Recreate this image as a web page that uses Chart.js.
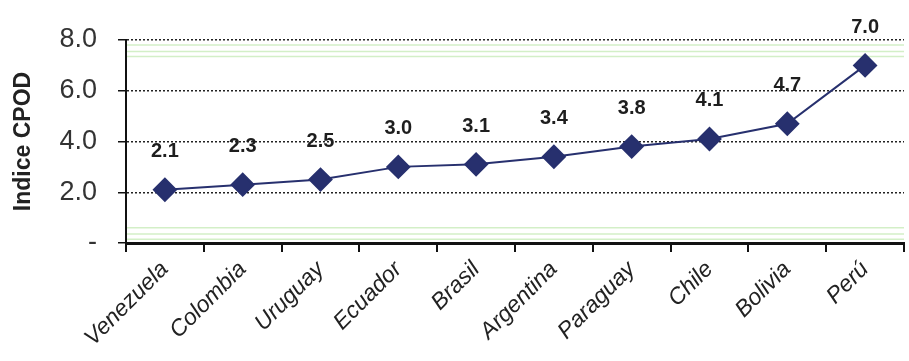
<!doctype html>
<html lang="es">
  <head>
    <meta charset="UTF-8" />
    <title>Indice CPOD</title>
    <script src="https://cdn.jsdelivr.net/npm/chart.js"></script>
    <style>
      html, body {
        margin: 0;
        padding: 0;
        background: #fff;
        overflow: hidden;
      }
      .wrap {
        width: 917px;
        height: 361px;
      }
    </style>
  </head>
  <body>
    <div class="wrap"><canvas id="cpod"></canvas></div>
    <script>
      const countries = ['Venezuela', 'Colombia', 'Uruguay', 'Ecuador', 'Brasil', 'Argentina', 'Paraguay', 'Chile', 'Bolivia', 'Perú'];
      const cpodValues = [2.1, 2.3, 2.5, 3.0, 3.1, 3.4, 3.8, 4.1, 4.7, 7.0];
      const yTicks = [0, 2, 4, 6, 8];

      const navy = '#27306e';

      // value labels above each marker
      const valueLabels = {
        id: 'valueLabels',
        afterDatasetsDraw(chart) {
          const ctx = chart.ctx;
          const meta = chart.getDatasetMeta(0);
          ctx.save();
          ctx.font = 'bold 20px "Liberation Sans", Arial, sans-serif';
          ctx.fillStyle = '#1e1e1e';
          ctx.textAlign = 'center';
          ctx.textBaseline = 'middle';
          meta.data.forEach((pt, i) => {
            ctx.fillText(cpodValues[i].toFixed(1), pt.x, pt.y - 38);
          });
          ctx.restore();
        }
      };

      // faint greenish scan lines near top and bottom of the plot
      const bands = {
        id: 'bands',
        beforeDraw(chart) {
          const { ctx, chartArea, scales } = chart;
          ctx.save();
          ctx.strokeStyle = 'rgba(200, 235, 185, 0.8)';
          ctx.lineWidth = 1.5;
          [7.8, 7.55, 7.35, 0.6, 0.35, 0.15].forEach(v => {
            const y = scales.y.getPixelForValue(v);
            ctx.beginPath();
            ctx.moveTo(chartArea.left, y);
            ctx.lineTo(chartArea.right, y);
            ctx.stroke();
          });
          ctx.restore();
        }
      };

      new Chart(document.getElementById('cpod'), {
        type: 'line',
        data: {
          labels: countries,
          datasets: [{
            data: cpodValues,
            borderColor: navy,
            borderWidth: 2,
            pointStyle: 'rectRot',
            pointRadius: 11,
            pointBackgroundColor: navy,
            pointBorderColor: navy,
            tension: 0
          }]
        },
        options: {
          responsive: true,
          maintainAspectRatio: false,
          animation: false,
          layout: { padding: { top: 40, left: 0, right: 0, bottom: 0 } },
          plugins: {
            legend: { display: false },
            tooltip: { enabled: false }
          },
          scales: {
            x: {
              offset: true,
              grid: {
                offset: true,
                drawOnChartArea: false,
                drawTicks: true,
                tickLength: 9,
                color: '#111',
                lineWidth: 2
              },
              border: { color: '#111', width: 3 },
              ticks: {
                minRotation: 45,
                maxRotation: 45,
                padding: 4,
                color: '#222',
                font: { family: '"Liberation Sans", Arial, sans-serif', size: 23, style: 'italic' }
              },
              afterFit: s => { s.height = 118; }
            },
            y: {
              min: 0,
              max: 8,
              afterBuildTicks: s => { s.ticks = yTicks.map(v => ({ value: v })); },
              grid: {
                color: '#222',
                lineWidth: 1.5,
                tickLength: 8,
                tickBorderDash: [],
                tickColor: '#111'
              },
              border: { color: '#111', width: 2, dash: [2, 2] },
              ticks: {
                padding: 21,
                color: '#333',
                font: { family: '"Liberation Sans", Arial, sans-serif', size: 27 },
                callback: v => (v === 0 ? '-' : v.toFixed(1))
              },
              title: {
                display: true,
                text: 'Indice CPOD',
                color: '#222',
                padding: { top: 10, bottom: 0 },
                font: { family: '"Liberation Sans", Arial, sans-serif', size: 23, weight: 'bold' }
              },
              afterFit: s => { s.width = 126; }
            }
          }
        },
        plugins: [bands, valueLabels]
      });
    </script>
  </body>
</html>
